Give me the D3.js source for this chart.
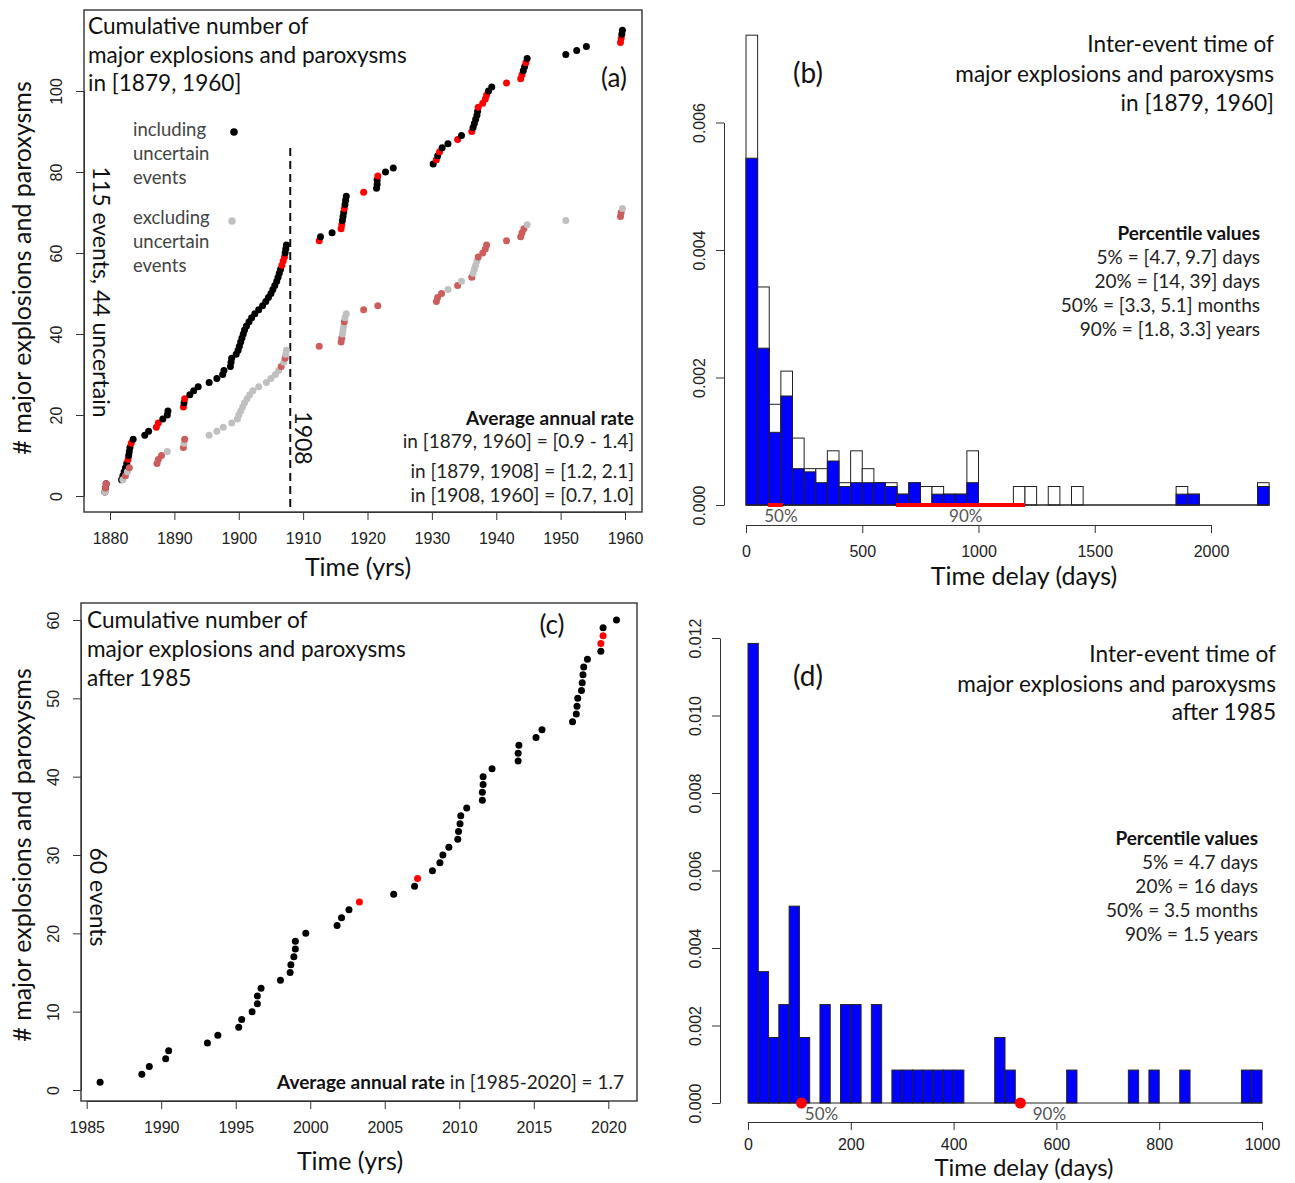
<!DOCTYPE html>
<html>
<head>
<meta charset="utf-8">
<script src="https://cdn.jsdelivr.net/npm/d3@7"></script>
<style>
body { margin: 0; background: #fff; }
text { font-family: Lato, "Open Sans", sans-serif; }
</style>
</head>
<body>
<div id="chart"></div>
<script>
// ---- panel (a): cumulative events 1879-1960 ----
var yrsAll = [1879.2,1879.3,1879.4,1881.8,1882.0,1882.2,1882.4,1882.6,1882.8,1882.9,
  1883.0,1883.1,1883.3,1883.6,1885.4,1886.0,1887.2,1887.5,1888.2,1888.9,
  1889.0,1891.4,1891.5,1891.6,1892.4,1893.0,1893.7,1895.4,1896.6,1897.5,
  1897.7,1898.7,1898.8,1898.9,1899.6,1899.9,1900.1,1900.3,1900.5,1900.7,
  1900.9,1901.2,1901.6,1902.0,1902.5,1903.1,1903.7,1904.2,1904.6,1905.0,
  1905.3,1905.6,1905.9,1906.1,1906.3,1906.5,1906.7,1906.9,1907.1,1907.2,
  1907.3,1907.4,1912.5,1912.7,1914.5,1915.9,1916.0,1916.1,1916.2,1916.3,
  1916.4,1916.5,1916.6,1916.7,1919.4,1921.4,1921.5,1921.5,1921.6,1922.8,
  1924.0,1930.2,1930.7,1930.9,1931.2,1931.6,1932.5,1934.0,1934.6,1936.2,
  1936.4,1936.6,1936.8,1937.0,1937.1,1937.2,1937.9,1938.3,1938.5,1938.8,
  1939.3,1941.6,1943.8,1944.0,1944.2,1944.4,1944.6,1944.8,1950.8,1952.5,
  1954.0,1959.3,1959.4,1959.5,1959.6];
// cumulative counts drawn in red (paroxysms)
var redAll = [9,13,17,18,22,24,57,58,59,63,66,67,71,75,79,83,85,88,90,96,97,98,99,102,103,104,107,112,113];

var yrsCertain = [1879.2,1879.3,1879.4,1882.0,1882.4,1882.7,1883.0,1887.3,1887.5,1888.0,
  1888.9,1891.4,1891.5,1891.6,1895.4,1896.6,1897.6,1898.9,1899.8,1900.0,
  1900.3,1900.6,1900.9,1901.3,1901.7,1902.2,1903.1,1904.3,1905.0,1905.7,
  1906.2,1906.6,1907.0,1907.2,1907.3,1907.4,1912.5,1915.9,1916.0,1916.1,
  1916.2,1916.3,1916.4,1916.5,1916.7,1919.4,1921.6,1930.7,1930.9,1931.5,
  1932.5,1934.0,1934.6,1936.2,1936.4,1936.6,1936.8,1937.0,1937.2,1937.9,
  1938.3,1938.5,1941.6,1943.8,1944.0,1944.3,1944.8,1950.8,1959.3,1959.4,
  1959.6];
var redCertain = [2,3,5,7,8,9,10,12,14,32,34,37,38,39,43,46,47,48,49,50,52,54,59,60,61,62,63,64,65,66,69,70];

var ticksAx = [1880,1890,1900,1910,1920,1930,1940,1950,1960];
var ticksAy = [0,20,40,60,80,100];

// ---- panel (b): inter-event time histogram, 50-day bins from 0 ----
var binB = 50;
var densAllB = [0.00737,0.00342,0.00158,0.00210,0.00105,0.00057,0.00057,0.00085,0.00035,0.00085,
  0.00057,0.00035,0.00035,0.00017,0.00035,0.00029,0.00029,0.00017,0.00017,0.00085,
  0,0,0,0.00029,0.00029,0,0.00029,0,0.00029,0,
  0,0,0,0,0,0,0,0.00029,0.00017,0,
  0,0,0,0,0.00035];
var densCertB = [0.00544,0.00246,0.00114,0.00171,0.00057,0.00052,0.00035,0.00069,0.00029,0.00035,
  0.00035,0.00035,0.00029,0.00017,0.00035,0,0.00017,0.00017,0.00017,0.00035,
  0,0,0,0,0,0,0,0,0,0,
  0,0,0,0,0,0,0,0.00017,0.00017,0,
  0,0,0,0,0.00029];
var p50B = [95, 158];
var p90B = [645, 1200];
var ticksBx = [0,500,1000,1500,2000];
var ticksBy = [0,0.002,0.004,0.006];

// ---- panel (c): cumulative events after 1985 ----
var yrsC = [1985.9,1988.7,1989.2,1990.3,1990.5,1993.1,1993.8,1995.2,1995.4,1996.1,
  1996.45,1996.45,1996.7,1998.0,1998.65,1998.7,1998.9,1999.0,1999.0,1999.7,
  2001.8,2002.1,2002.6,2003.3,2005.6,2007.0,2007.2,2008.2,2008.7,2008.9,
  2009.3,2009.9,2009.95,2010.05,2010.1,2010.5,2011.55,2011.55,2011.6,2011.6,
  2012.2,2013.95,2013.95,2014.0,2015.15,2015.55,2017.6,2017.85,2017.9,2017.95,
  2018.2,2018.25,2018.3,2018.35,2018.6,2019.5,2019.5,2019.65,2019.65,2020.55];
var redC = [24,27,57,58];
var ticksCx = [1985,1990,1995,2000,2005,2010,2015,2020];
var ticksCy = [0,10,20,30,40,50,60];

// ---- panel (d): inter-event time after 1985, 20-day bins ----
var binD = 20;
var densD = [0.01186,0.00339,0.00169,0.00254,0.00508,0.00169,0,0.00254,0,0.00254,
  0.00254,0,0.00254,0,0.00085,0.00085,0.00085,0.00085,0.00085,0.00085,
  0.00085,0,0,0,0.00169,0.00085,0,0,0,0,
  0,0.00085,0,0,0,0,0,0.00085,0,0.00085,
  0,0,0.00085,0,0,0,0,0,0.00085,0.00085];
var pctD = [104, 530];
var ticksDx = [0,200,400,600,800,1000];
var ticksDy = [0,0.002,0.004,0.006,0.008,0.010,0.012];

var svg = d3.select('#chart').append('svg')
    .attr('width', 1295)
    .attr('height', 1183);

var TITLE = 22.6, SMALL = 19, AXT = 25;

function label(x, y, s, o) {
    o = o || {};
    var t = svg.append('text')
        .attr('x', x).attr('y', y).attr('dy', '0.35em')
        .attr('font-size', o.size || TITLE)
        .attr('text-anchor', o.anchor || 'start')
        .attr('fill', o.fill || '#111')
        .attr('font-weight', o.bold ? 'bold' : null)
        .text(s);
    if (o.rot) t.attr('transform', 'rotate(' + o.rot + ',' + x + ',' + y + ')');
    return t;
}

function xAxis(scale, ticks, ty, fmt, pad) {
    var ax = svg.append('g')
        .attr('transform', 'translate(0,' + ty + ')')
        .call(d3.axisBottom(scale).tickValues(ticks).tickSize(8).tickSizeOuter(0)
            .tickPadding(pad || 13).tickFormat(fmt));
    ax.attr('font-size', 16);
    ax.selectAll('text').attr('fill', '#222').style('font-family', '"Liberation Sans", Arial, sans-serif');
    ax.selectAll('line, path').attr('stroke', '#333');
    return ax;
}

function yAxis(scale, ticks, tx, fmt, off) {
    var ax = svg.append('g')
        .attr('transform', 'translate(' + tx + ',0)')
        .call(d3.axisLeft(scale).tickValues(ticks).tickSize(8).tickSizeOuter(0).tickFormat(fmt));
    ax.attr('font-size', 16);
    ax.selectAll('.tick text')
        .attr('x', null).attr('dy', '0.35em')
        .attr('text-anchor', 'middle')
        .attr('fill', '#222')
        .style('font-family', '"Liberation Sans", Arial, sans-serif')
        .attr('transform', 'translate(' + (-off) + ',0) rotate(-90)');
    ax.selectAll('line, path').attr('stroke', '#333');
    return ax;
}

function box(x0, y0, x1, y1) {
    svg.append('rect')
        .attr('x', x0).attr('y', y0)
        .attr('width', x1 - x0).attr('height', y1 - y0)
        .attr('fill', 'none').attr('stroke', '#333').attr('stroke-width', 1.4);
}

function cumDots(x, y, yrs, reds, base, redCol) {
    svg.append('g').selectAll('circle')
        .data(yrs)
        .enter()
        .append('circle')
        .attr('cx', d => x(d))
        .attr('cy', (d, i) => y(i + 1))
        .attr('r', 3.5)
        .attr('fill', (d, i) => reds.indexOf(i + 1) >= 0 ? redCol : base);
}

function bars(x, y, width, vals, fill) {
    var g = svg.append('g');
    g.selectAll('rect')
        .data(vals.map((d, i) => ({ i: i, d: d })).filter(b => b.d > 0))
        .enter()
        .append('rect')
        .attr('x', b => x(b.i * width))
        .attr('y', b => y(b.d))
        .attr('width', b => x((b.i + 1) * width) - x(b.i * width))
        .attr('height', b => y(0) - y(b.d))
        .attr('fill', fill)
        .attr('stroke', '#222')
        .attr('stroke-width', 1);
    g.append('line')
        .attr('x1', x(0)).attr('x2', x(vals.length * width))
        .attr('y1', y(0)).attr('y2', y(0))
        .attr('stroke', '#222');
}

var fmtD = d3.format('d');
var fmt3 = d3.format('.3f');

// ================= (a) =================
var xA = d3.scaleLinear().domain([1880, 1960]).range([110, 625]);
var yA = d3.scaleLinear().domain([0, 100]).range([496, 91]);

box(84, 10, 642, 512);
xAxis(xA, ticksAx, 512, fmtD);
yAxis(yA, ticksAy, 84, fmtD, 28);

svg.append('line')
    .attr('x1', xA(1908)).attr('x2', xA(1908))
    .attr('y1', 148).attr('y2', 512)
    .attr('stroke', '#111').attr('stroke-width', 2)
    .attr('stroke-dasharray', '8,5');

cumDots(xA, yA, yrsAll, redAll, '#000', '#ff0000');
cumDots(xA, yA, yrsCertain, redCertain, '#c0c0c0', '#cd5c5c');

label(88, 26, 'Cumulative number of');
label(88, 55, 'major explosions and paroxysms');
label(88, 83, 'in [1879, 1960]');
label(614, 78, '(a)', { anchor: 'middle', size: 26 });

label(133, 130, 'including', { size: 18.5, fill: '#444' });
label(133, 154, 'uncertain', { size: 18.5, fill: '#444' });
label(133, 178, 'events', { size: 18.5, fill: '#444' });
svg.append('circle').attr('cx', 234).attr('cy', 132).attr('r', 3.8).attr('fill', '#000');
label(133, 218, 'excluding', { size: 18.5, fill: '#444' });
label(133, 242, 'uncertain', { size: 18.5, fill: '#444' });
label(133, 266, 'events', { size: 18.5, fill: '#444' });
svg.append('circle').attr('cx', 232).attr('cy', 221).attr('r', 3.8).attr('fill', '#c0c0c0');

label(101, 292, '115 events, 44 uncertain', { anchor: 'middle', rot: 90, size: 23 });
label(303, 438, '1908', { anchor: 'middle', rot: 90, size: 23 });

label(634, 418, 'Average annual rate', { anchor: 'end', size: SMALL, bold: true });
label(634, 441, 'in [1879, 1960] = [0.9 - 1.4]', { anchor: 'end', size: SMALL, fill: '#222' });
label(634, 471, 'in [1879, 1908] = [1.2, 2.1]', { anchor: 'end', size: SMALL, fill: '#222' });
label(634, 495, 'in [1908, 1960] = [0.7, 1.0]', { anchor: 'end', size: SMALL, fill: '#222' });

label(358, 567, 'Time (yrs)', { anchor: 'middle', size: AXT });
label(22, 268, '# major explosions and paroxysms', { anchor: 'middle', size: AXT, rot: -90 });

// ================= (b) =================
var xB = d3.scaleLinear().domain([0, 2000]).range([746, 1211]);
var yB = d3.scaleLinear().domain([0, 0.006]).range([505, 122.5]);

bars(xB, yB, binB, densAllB, '#fff');
bars(xB, yB, binB, densCertB, '#0000ff');

svg.append('line')
    .attr('x1', xB(p50B[0])).attr('x2', xB(p50B[1]))
    .attr('y1', yB(0)).attr('y2', yB(0))
    .attr('stroke', '#ff0000').attr('stroke-width', 4);
svg.append('line')
    .attr('x1', xB(p90B[0])).attr('x2', xB(p90B[1]))
    .attr('y1', yB(0)).attr('y2', yB(0))
    .attr('stroke', '#ff0000').attr('stroke-width', 4);
label(xB(150), 516, '50%', { anchor: 'middle', size: 17, fill: '#555' });
label(xB(945), 516, '90%', { anchor: 'middle', size: 17, fill: '#555' });

xAxis(xB, ticksBx, 525, fmtD);
yAxis(yB, ticksBy, 724, fmt3, 25);

label(808, 73, '(b)', { anchor: 'middle', size: 28 });
label(1274, 44, 'Inter-event time of', { anchor: 'end' });
label(1274, 74, 'major explosions and paroxysms', { anchor: 'end' });
label(1274, 103, 'in [1879, 1960]', { anchor: 'end' });

label(1260, 233, 'Percentile values', { anchor: 'end', size: SMALL, bold: true });
label(1260, 257, '5% = [4.7, 9.7] days', { anchor: 'end', size: SMALL, fill: '#222' });
label(1260, 281, '20% = [14, 39] days', { anchor: 'end', size: SMALL, fill: '#222' });
label(1260, 305, '50% = [3.3, 5.1] months', { anchor: 'end', size: SMALL, fill: '#222' });
label(1260, 329, '90% = [1.8, 3.3] years', { anchor: 'end', size: SMALL, fill: '#222' });

label(1024, 576, 'Time delay (days)', { anchor: 'middle', size: AXT });

// ================= (c) =================
var xC = d3.scaleLinear().domain([1985, 2020]).range([86.7, 608.3]);
var yC = d3.scaleLinear().domain([0, 60]).range([1090, 620]);

box(81, 603, 637, 1101);
xAxis(xC, ticksCx, 1101, fmtD);
yAxis(yC, ticksCy, 81, fmtD, 28);

cumDots(xC, yC, yrsC, redC, '#000', '#ff0000');

label(87, 620, 'Cumulative number of');
label(87, 649, 'major explosions and paroxysms');
label(87, 678, 'after 1985');
label(552, 625, '(c)', { anchor: 'middle', size: 26 });
label(98, 897, '60 events', { anchor: 'middle', rot: 90, size: 23 });

var rate = svg.append('text')
    .attr('x', 624).attr('y', 1082).attr('dy', '0.35em')
    .attr('text-anchor', 'end').attr('font-size', SMALL).attr('fill', '#222');
rate.append('tspan').attr('font-weight', 'bold').attr('fill', '#111').text('Average annual rate');
rate.append('tspan').text(' in [1985-2020] = 1.7');

label(350, 1161, 'Time (yrs)', { anchor: 'middle', size: AXT });
label(22, 855, '# major explosions and paroxysms', { anchor: 'middle', size: AXT, rot: -90 });

// ================= (d) =================
var xD = d3.scaleLinear().domain([0, 1000]).range([748, 1262]);
var yD = d3.scaleLinear().domain([0, 0.012]).range([1103, 638]);

bars(xD, yD, binD, densD, '#0000ff');

svg.append('g').selectAll('circle')
    .data(pctD)
    .enter()
    .append('circle')
    .attr('cx', d => xD(d))
    .attr('cy', yD(0))
    .attr('r', 5.5)
    .attr('fill', '#ff0000');
label(xD(pctD[0]) + 20, 1114, '50%', { anchor: 'middle', size: 17, fill: '#555' });
label(xD(pctD[1]) + 29, 1114, '90%', { anchor: 'middle', size: 17, fill: '#555' });

xAxis(xD, ticksDx, 1122, fmtD, 9);
yAxis(yD, ticksDy, 720, fmt3, 25);

label(808, 676, '(d)', { anchor: 'middle', size: 28 });
label(1276, 654, 'Inter-event time of', { anchor: 'end' });
label(1276, 684, 'major explosions and paroxysms', { anchor: 'end' });
label(1276, 712, 'after 1985', { anchor: 'end' });

label(1258, 838, 'Percentile values', { anchor: 'end', size: SMALL, bold: true });
label(1258, 862, '5% = 4.7 days', { anchor: 'end', size: SMALL, fill: '#222' });
label(1258, 886, '20% = 16 days', { anchor: 'end', size: SMALL, fill: '#222' });
label(1258, 910, '50% = 3.5 months', { anchor: 'end', size: SMALL, fill: '#222' });
label(1258, 934, '90% = 1.5 years', { anchor: 'end', size: SMALL, fill: '#222' });

label(1024, 1168, 'Time delay (days)', { anchor: 'middle', size: 24 });
</script>
</body>
</html>
